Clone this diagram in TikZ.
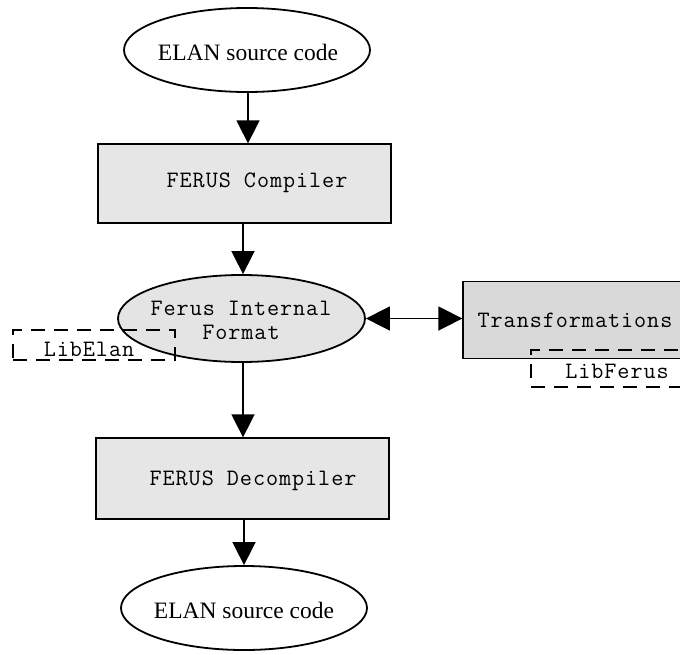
\documentclass[tikz,border=0pt]{standalone}
\usepackage{fontspec}
\setmainfont{Liberation Serif}
\newfontfamily\monof{Latin Modern Mono}[LetterSpace=4]
\usetikzlibrary{shapes.geometric,arrows.meta}
\definecolor{boxgray}{HTML}{E6E6E6}
\definecolor{trgray}{HTML}{D9D9D9}
\definecolor{ellgray}{HTML}{E4E4E4}
\tikzset{
  ell/.style={ellipse, draw=black, line width=1.8pt, inner sep=0pt},
  procbox/.style={rectangle, draw=black, line width=1.3pt, fill=boxgray, inner sep=0pt},
  libbox/.style={rectangle, draw=black, line width=1.3pt, dash pattern=on 14pt off 9pt, inner sep=0pt},
  serift/.style={font=\fontsize{23.5}{26}\selectfont},
  monot/.style={font=\monof\fontsize{23.5}{24}\selectfont},
  flow/.style={line width=1.6pt, -{Triangle[length=23pt,width=23pt]}},
  flowboth/.style={line width=1.6pt, {Triangle[length=24pt,width=24pt]}-{Triangle[length=24pt,width=24pt]}}
}
\begin{document}
\begin{tikzpicture}[x=1pt,y=-1pt]
\useasboundingbox (0,0) rectangle (680,654);
\clip (0,0) rectangle (680,654);
\fill[white] (0,0) rectangle (680,654);
% nodes
\node[ell, minimum width=246pt, minimum height=84pt] (src) at (247,50) {};
\node[serift] (srct) at (248,52) {ELAN source code};
\node[procbox, minimum width=293pt, minimum height=79pt] (comp) at (244.5,183.5) {};
\node[monot] (compt) at (257,183) {FERUS Compiler};
\node[ell, fill=ellgray, minimum width=247pt, minimum height=87pt] (fif) at (241.5,318.5) {};
\node[monot, align=center] (fift) at (241,320) {Ferus Internal\\Format};
\node[libbox, minimum width=162pt, minimum height=30pt] (libelan) at (94,345) {};
\node[monot] (libelant) at (89,349) {LibElan};
\node[procbox, fill=trgray, minimum width=240pt, minimum height=77pt] (tr) at (583,320) {};
\node[monot] (trt) at (575,320) {Transformations};
\node[libbox, minimum width=170pt, minimum height=37pt] (libferus) at (616,368.5) {};
\node[monot] (libferust) at (617,371) {LibFerus};
\node[procbox, minimum width=293pt, minimum height=81pt] (dec) at (242.5,478.5) {};
\node[monot] (dect) at (253,481) {FERUS Decompiler};
\node[ell, minimum width=246pt, minimum height=84pt] (dst) at (244,608) {};
\node[serift] (dstt) at (244,610) {ELAN source code};
% connectors
\draw[flow] (src.south -| 248,0) -- (comp.north -| 248,0);
\draw[flow] (comp.south -| 243,0) -- (fif.north -| 243,0);
\draw[flow] (fif.south -| 243,0) -- (dec.north -| 243,0);
\draw[flow] (dec.south -| 244,0) -- (dst.north);
\draw[flowboth] (fif.east) -- (tr.west |- fif.east);
\end{tikzpicture}
\end{document}
